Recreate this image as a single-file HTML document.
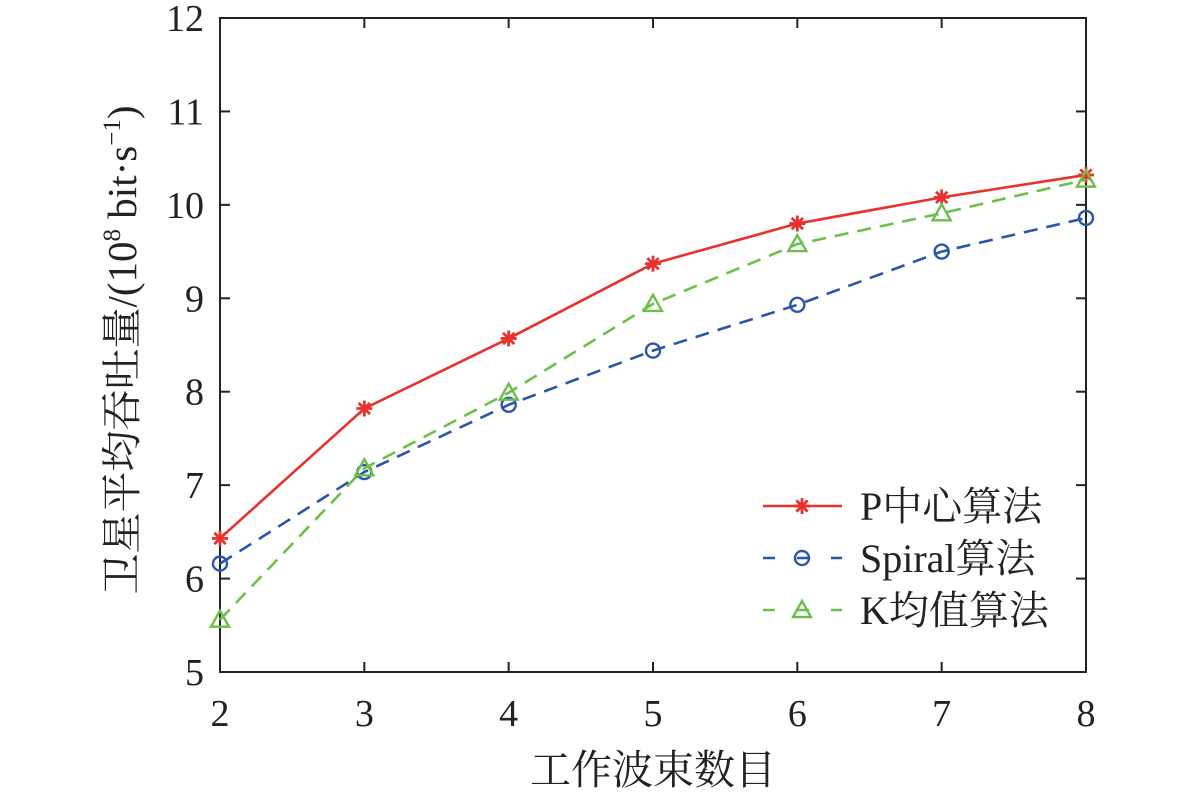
<!DOCTYPE html>
<html><head><meta charset="utf-8"><style>
body{margin:0;background:#fff;}
svg text{font-family:"Liberation Serif","Noto Serif CJK SC",serif;fill:#222;}
</style></head><body>
<svg id="chart" width="1181" height="794" xmlns="http://www.w3.org/2000/svg">
<rect x="220" y="18" width="866" height="654" fill="none" stroke="#222" stroke-width="2"/>
<g id="axes"></g>
<g id="series"></g>
<text x="653" y="784" font-size="41" text-anchor="middle">工作波束数目</text>
<text transform="translate(136,350) rotate(-90)" font-size="41" text-anchor="middle">卫星平均吞吐量/(10<tspan font-size="25" dy="-16">8</tspan><tspan dy="16"> bit·s</tspan><tspan font-size="25" dy="-16">−1</tspan><tspan dy="16">)</tspan></text>
<g id="legend"></g>
</svg>
<script>
const categories=[2,3,4,5,6,7,8];
const yTicks=[5,6,7,8,9,10,11,12];
const pCenter=[6.43,7.82,8.57,9.37,9.80,10.08,10.32];
const spiral=[6.16,7.14,7.86,8.44,8.93,9.50,9.86];
const kmeans=[5.56,7.18,7.99,8.94,9.58,9.91,10.27];
const seriesNames=["P中心算法","Spiral算法","K均值算法"];
const NS="http://www.w3.org/2000/svg";
const x=v=>220+(v-2)*(866/6);
const y=v=>672-(v-5)*(654/7);
function mk(tag,attrs,parent){const e=document.createElementNS(NS,tag);for(const k in attrs)e.setAttribute(k,attrs[k]);parent.appendChild(e);return e;}
const axes=document.getElementById('axes');
categories.forEach(c=>{
  const t=mk('line',{x1:x(c),x2:x(c),y1:672,y2:662,stroke:'#222','stroke-width':2},axes);
  
  
  const t2=mk('line',{x1:x(c),x2:x(c),y1:18,y2:28,stroke:'#222','stroke-width':2},axes);
  
  
  const l=mk('text',{x:x(c),y:726,'font-size':38,'text-anchor':'middle'},axes);l.textContent=c;
  
  
});
yTicks.forEach(v=>{
  const t=mk('line',{x1:220,x2:230,y1:y(v),y2:y(v),stroke:'#222','stroke-width':2},axes);
  
  
  const t2=mk('line',{x1:1076,x2:1086,y1:y(v),y2:y(v),stroke:'#222','stroke-width':2},axes);
  
  
  const l=mk('text',{x:204,y:y(v)+13,'font-size':38,'text-anchor':'end'},axes);l.textContent=v;
  
  
});
const sg=document.getElementById('series');
const styles=[{c:'#e8322e',d:'',m:'star'},{c:'#2a56a8',d:'14,9',m:'circle'},{c:'#6cc04a',d:'14,9',m:'tri'}];
function marker(type,cx,cy,col,parent){
  let e;
  if(type==='star'){
    e=mk('g',{stroke:col,'stroke-width':2.8},parent);
    for(let a=0;a<4;a++){const r=a*Math.PI/4,d=8;mk('line',{x1:cx-d*Math.cos(r),y1:cy-d*Math.sin(r),x2:cx+d*Math.cos(r),y2:cy+d*Math.sin(r)},e);}
  }
  else if(type==='circle'){e=mk('circle',{cx:cx,cy:cy,r:7,fill:'none',stroke:col,'stroke-width':2.4},parent);}
  else{e=mk('polygon',{points:`${cx},${cy-9} ${cx-9},${cy+7} ${cx+9},${cy+7}`,fill:'none',stroke:col,'stroke-width':2.4},parent);}
  
  
}
[pCenter,spiral,kmeans].forEach((data,i)=>{
  const s=styles[i];
  const pl=mk('polyline',{points:data.map((v,j)=>x(categories[j])+','+y(v)).join(' '),fill:'none',stroke:s.c,'stroke-width':2.6,'stroke-dasharray':s.d},sg);
  
  
  data.forEach((v,j)=>marker(s.m,x(categories[j]),y(v),s.c,sg));
});
const lg=document.getElementById('legend');
[506,558,610].forEach((ly,i)=>{
  const s=styles[i];
  const ln=mk('line',{x1:763,x2:842,y1:ly,y2:ly,stroke:s.c,'stroke-width':2.6,'stroke-dasharray':i?'12,22':''},lg);
  
  
  marker(s.m,802,ly,s.c,lg);
  const t=mk('text',{x:860,y:ly+14,'font-size':40},lg);t.textContent=seriesNames[i];
  
  
});
</script>
</body></html>
